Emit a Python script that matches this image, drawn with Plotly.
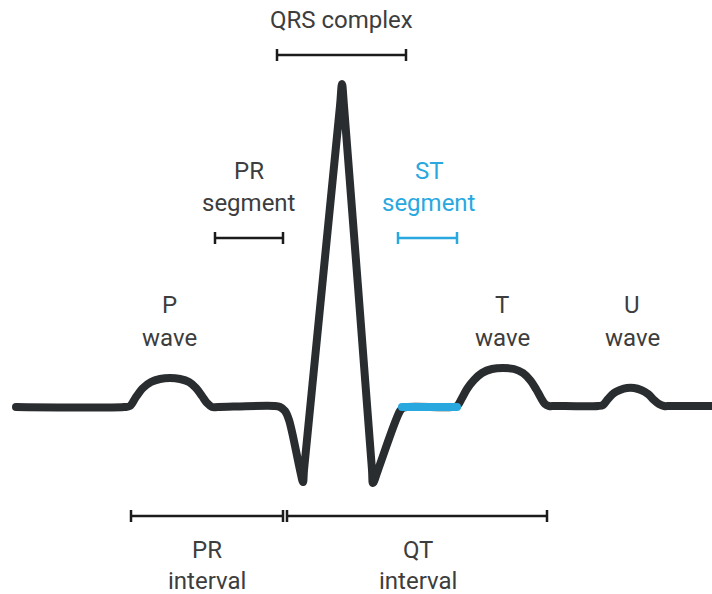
import plotly.graph_objects as go

# ECG trace, drawn in picture coordinates (x right, y down)
wave_x = [16, 124, 130,
          136, 143, 151, 160, 170, 180, 189, 196, 202, 207, 212, 218,
          274, 280, 285, 289, 300, 303, 304,
          340, 342, 344, 372, 373, 378,
          400, 403, 408,
          452, 457, 462, 467, 474, 482, 492, 503, 514, 523, 530, 536, 541, 545, 549, 555,
          598, 603, 608, 614, 620, 627, 634, 641, 648, 654, 659, 664, 670, 712]
wave_y = [407, 407, 406,
          397, 388, 382, 379, 378, 379, 382, 388, 396, 403, 407, 407,
          406, 407, 411, 420, 470, 482, 470,
          106, 84, 106, 470, 483, 470,
          411, 408, 407,
          407, 406, 398, 389, 380, 373, 369, 368, 369, 373, 380, 389, 398, 404, 406, 406,
          406, 405, 399, 393, 390, 388, 388, 390, 394, 400, 404, 406, 406, 406]

st_x = [402, 457]
st_y = [407, 407]

# interval brackets
bracket_x0 = [277, 215, 398, 131, 287]
bracket_x1 = [406, 283, 457, 283, 547]
bracket_y = [55, 238, 238, 516, 516]
bracket_color = ["#1b1b1b", "#1b1b1b", "#29a8df", "#1b1b1b", "#1b1b1b"]

# labels, one entry per text line
label_text = ["QRS complex", "PR", "segment", "ST", "segment", "P", "wave",
              "T", "wave", "U", "wave", "PR", "interval", "QT", "interval"]
label_x = [341, 249, 249, 429, 429, 169, 169, 502, 502, 632, 632, 207, 207, 418, 418]
label_y = [20, 171, 203, 171, 203, 305, 338, 305, 338, 305, 338, 550, 581, 550, 581]
label_color = ["#3d3d3d", "#3d3d3d", "#3d3d3d", "#29a8df", "#29a8df", "#3d3d3d", "#3d3d3d",
               "#3d3d3d", "#3d3d3d", "#3d3d3d", "#3d3d3d", "#3d3d3d", "#3d3d3d", "#3d3d3d", "#3d3d3d"]

LINE_DARK = "#2a2d30"
BLUE = "#29a8df"
TICK_H = 6

fig = go.Figure()
fig.add_trace(go.Scatter(x=wave_x, y=wave_y, mode="lines",
                         line=dict(color=LINE_DARK, width=8, shape="spline", smoothing=1),
                         hoverinfo="skip"))
fig.add_trace(go.Scatter(x=[wave_x[0], wave_x[-1]], y=[wave_y[0], wave_y[-1]], mode="markers",
                         marker=dict(color=LINE_DARK, size=8), hoverinfo="skip"))
fig.add_trace(go.Scatter(x=st_x, y=st_y, mode="lines+markers",
                         line=dict(color=BLUE, width=8),
                         marker=dict(color=BLUE, size=8), hoverinfo="skip"))

for x0, x1, y, c in zip(bracket_x0, bracket_x1, bracket_y, bracket_color):
    bx = [x0, x1, None, x0, x0, None, x1, x1]
    by = [y, y, None, y - TICK_H, y + TICK_H, None, y - TICK_H, y + TICK_H]
    fig.add_trace(go.Scatter(x=bx, y=by, mode="lines",
                             line=dict(color=c, width=2.5), hoverinfo="skip"))

for t, x, y, c in zip(label_text, label_x, label_y, label_color):
    fig.add_annotation(x=x, y=y, text=t, showarrow=False,
                       xanchor="center", yanchor="middle",
                       font=dict(family="Roboto", size=24, color=c))

fig.update_layout(
    width=712, height=594,
    margin=dict(l=0, r=0, t=0, b=0),
    paper_bgcolor="white", plot_bgcolor="white",
    showlegend=False,
    xaxis=dict(range=[0, 712], visible=False, fixedrange=True),
    yaxis=dict(range=[594, 0], visible=False, fixedrange=True),
)

fig.write_html("out.html", config={"displayModeBar": False},
               post_script="document.body.style.margin = '0';")
